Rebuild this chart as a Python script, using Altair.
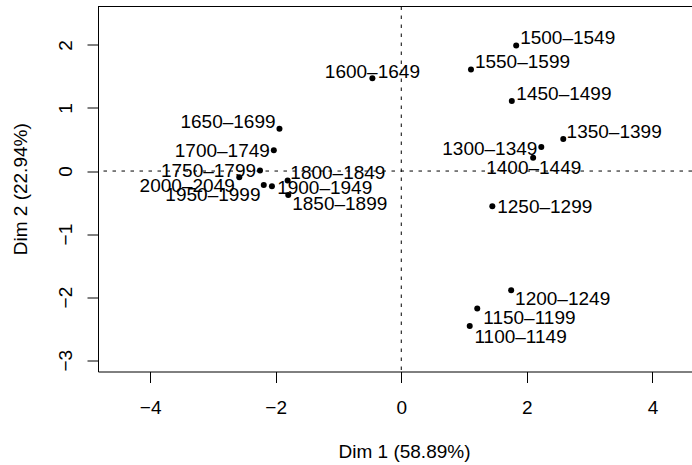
import altair as alt
import pandas as pd

# ---- data ----
periods = ["1100–1149", "1150–1199", "1200–1249", "1250–1299", "1300–1349",
           "1350–1399", "1400–1449", "1450–1499", "1500–1549", "1550–1599",
           "1600–1649", "1650–1699", "1700–1749", "1750–1799", "1800–1849",
           "1850–1899", "1900–1949", "1950–1999", "2000–2049"]
dim1 = [1.09, 1.21, 1.75, 1.45, 2.23, 2.58, 2.10, 1.76, 1.83, 1.11,
        -0.46, -1.94, -2.03, -2.25, -1.81, -1.80, -2.06, -2.19, -2.58]
dim2 = [-2.46, -2.18, -1.89, -0.56, 0.38, 0.51, 0.21, 1.11, 1.99, 1.61,
        1.47, 0.67, 0.33, 0.01, -0.15, -0.38, -0.24, -0.22, -0.10]

x_ticks = [-4, -2, 0, 2, 4]
y_ticks = [-3, -2, -1, 0, 1, 2]
x_title = "Dim 1 (58.89%)"
y_title = "Dim 2 (22.94%)"

# ---- label placement (layout, in data units, as placed in the reference) ----
label_x = [1.90, 2.04, 2.57, 2.285, 1.41, 3.39, 2.11, 2.59, 2.65, 1.93,
           -0.46, -2.76, -2.85, -3.07, -1.01, -0.98, -1.22, -3.00, -3.41]
label_y = [-2.61, -2.32, -2.02, -0.56, 0.37, 0.63, 0.07, 1.24, 2.12, 1.74,
           1.58, 0.80, 0.33, 0.01, -0.02, -0.50, -0.26, -0.37, -0.22]

df = pd.DataFrame({"period": periods, "d1": dim1, "d2": dim2,
                   "lx": label_x, "ly": label_y})

W, H = 594, 365
FONT = "Liberation Sans"
FS = 19

xscale = alt.Scale(domain=[-4.83, 4.63], nice=False, zero=False)
yscale = alt.Scale(domain=[-3.18, 2.61], nice=False, zero=False)

common = dict(grid=False, format="d", tickSize=11, labelFlush=False,
              labelFont=FONT, labelFontSize=FS, labelColor="black",
              titleFont=FONT, titleFontSize=FS, titleColor="black",
              titleFontWeight="normal", tickColor="black", tickWidth=1,
              domainColor="black", domainWidth=1)

xaxis = alt.Axis(values=x_ticks, title=x_title, labelPadding=16,
                 titleX=306, titleY=86, titleBaseline="alphabetic",
                 titleAlign="center", **common)
yaxis = alt.Axis(values=y_ticks, title=y_title, labelPadding=15.5,
                 labelAngle=270, labelAlign="center",
                 labelBaseline="alphabetic",
                 titleX=-71.3, titleY=182.25, titleAngle=270,
                 titleBaseline="alphabetic", titleAlign="center", **common)

base = alt.Chart(df)

points = base.mark_circle(size=36, color="black", opacity=1).encode(
    x=alt.X("d1:Q", scale=xscale, axis=xaxis),
    y=alt.Y("d2:Q", scale=yscale, axis=yaxis),
)

labels = base.mark_text(font=FONT, fontSize=FS, color="black",
                        align="center", baseline="middle", dy=1).encode(
    x=alt.X("lx:Q", scale=xscale),
    y=alt.Y("ly:Q", scale=yscale),
    text="period:N",
)

zero_df = pd.DataFrame({"z": [0]})
vline = alt.Chart(zero_df).mark_rule(color="black", strokeWidth=1,
                                     strokeDash=[3.5, 5.5]).encode(
    x=alt.X("z:Q", scale=xscale))
hline = alt.Chart(zero_df).mark_rule(color="black", strokeWidth=1,
                                     strokeDash=[3.5, 5.5]).encode(
    y=alt.Y("z:Q", scale=yscale))

top_border = alt.Chart(zero_df).mark_rule(color="black", strokeWidth=1).encode(
    x=alt.value(0), x2=alt.value(W), y=alt.value(0))

chart = alt.layer(vline, hline, top_border, points, labels).properties(
    width=W, height=H,
    padding={"left": 98, "top": 6.5, "right": 0, "bottom": 93.5},
    autosize=alt.AutoSizeParams(type="none"),
    background="white",
).configure_view(stroke=None)

chart.save("out.html", embed_options={"renderer": "svg", "actions": False})
